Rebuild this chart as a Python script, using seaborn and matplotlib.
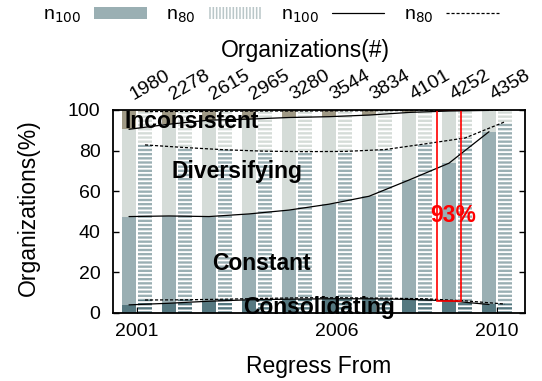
import numpy as np
import matplotlib
matplotlib.use("Agg")
import matplotlib.pyplot as plt
import matplotlib.transforms as mtransforms
import seaborn as sns
import pandas as pd
from matplotlib.patches import Patch, Rectangle
from matplotlib.lines import Line2D

# ---------------- data ----------------
years = [2001, 2002, 2003, 2004, 2005, 2006, 2007, 2008, 2009, 2010]
org_counts = ["1980", "2278", "2615", "2965", "3280", "3544", "3834", "4101", "4252", "4358"]

# cumulative tops (%) for n100
n100_consolidating = [4.0, 4.8, 5.8, 6.5, 6.8, 7.0, 7.0, 6.7, 6.0, 4.2]
n100_constant_top = [47.5, 47.8, 47.5, 48.8, 50.7, 53.6, 57.5, 65.5, 73.8, 89.3]
n100_diversifying_top = [90.5, 93.0, 95.0, 95.5, 96.3, 96.7, 97.5, 98.8, 99.5, 99.8]
# cumulative tops (%) for n80
n80_consolidating = [6.4, 6.5, 6.8, 7.2, 7.5, 7.5, 7.3, 7.0, 6.0, 4.4]
n80_constant_top = [82.8, 81.5, 80.4, 79.7, 79.5, 79.6, 80.5, 83.3, 86.2, 94.2]
n80_diversifying_top = [99.2, 99.3, 99.4, 99.5, 99.5, 99.6, 99.7, 99.8, 99.9, 100.0]
total = [100.0] * 10

highlight_year = 2009
highlight_text = "93%"

# ---------------- style ----------------
sns.set_style("ticks")
plt.rcParams["font.family"] = ["Liberation Sans", "DejaVu Sans"]
plt.rcParams["hatch.linewidth"] = 1.3
for k in ["text.color", "axes.labelcolor", "xtick.color", "ytick.color", "axes.edgecolor"]:
    plt.rcParams[k] = "black"

c_consol = "#557880"
c_const = "#9aafb3"
c_div = "#d5dcd8"
c_incons = "#a09a86"

fig = plt.figure(figsize=(5.42, 3.81), dpi=100)
ax = fig.add_axes([0.2085, 0.1785, 0.7601, 0.5328])

off = 0.2
bw = 0.34
x = np.array(years, dtype=float)

def stack(xpos, cons, const_top, div_top, hatch):
    layers = [
        (np.zeros(10), np.array(cons), c_consol),
        (np.array(cons), np.array(const_top), c_const),
        (np.array(const_top), np.array(div_top), c_div),
        (np.array(div_top), np.array(total), c_incons),
    ]
    for lo, hi, col in layers:
        ax.bar(xpos, hi - lo, bottom=lo, width=bw, color=col,
               edgecolor="white" if hatch else col, linewidth=0,
               hatch=hatch, zorder=1)

stack(x - off, n100_consolidating, n100_constant_top, n100_diversifying_top, None)
stack(x + off, n80_consolidating, n80_constant_top, n80_diversifying_top, "----")

df100 = pd.DataFrame({"x": x - off, "a": n100_consolidating, "b": n100_constant_top, "c": n100_diversifying_top})
df80 = pd.DataFrame({"x": x + off, "a": n80_consolidating, "b": n80_constant_top, "c": n80_diversifying_top})
for col in ["a", "b", "c"]:
    sns.lineplot(data=df100, x="x", y=col, ax=ax, color="black", lw=0.9, zorder=3)
    sns.lineplot(data=df80, x="x", y=col, ax=ax, color="black", lw=0.9, ls=(0, (2.5, 1.5)), zorder=3)

# highlight box
hi = years.index(highlight_year)
hx = highlight_year - off
ax.add_patch(Rectangle((hx - 0.3, n100_consolidating[hi]), 0.6, 100 - n100_consolidating[hi],
                       fill=False, edgecolor="red", lw=1.2, zorder=4))
ax.text(hx + 0.1, 48, highlight_text, color="red", fontsize=16.5, fontweight="bold",
        ha="center", va="center", zorder=5)

# category labels
tk = dict(fontsize=16.5, fontweight="bold", ha="center", va="center", zorder=6, color="black")
ax.text(2002.37, 94.5, "Inconsistent", **tk)
ax.text(2003.5, 69.8, "Diversifying", **tk)
ax.text(2004.1, 24.2, "Constant", **tk)
ax.text(2005.55, 2.6, "Consolidating", **tk)

ax.set_xlim(2000.4, 2010.7)
ax.set_ylim(0, 100)
ax.set_xticks([2001, 2006, 2010])
ax.set_yticks([0, 20, 40, 60, 80, 100])
ax.tick_params(direction="in", length=4, width=1, labelsize=14, top=True, right=True)
ax.tick_params(axis="y", pad=9)
ax.tick_params(axis="x", pad=7)
ax.set_xlabel("Regress From", fontsize=16.5)
ax.set_ylabel("Organizations(%)", fontsize=16.5)
ax.xaxis.set_label_coords(0.5, -0.205)
ax.yaxis.set_label_coords(-0.177, 0.52)
for s in ax.spines.values():
    s.set_linewidth(1.3)
    s.set_zorder(7)

axt = ax.twiny()
axt.set_xlim(ax.get_xlim())
axt.set_xticks(years)
axt.set_xticklabels(org_counts, rotation=30, fontsize=14, ha="center")
axt.tick_params(length=0, pad=5)
shift = mtransforms.ScaledTranslation(0.13, 0, fig.dpi_scale_trans)
for lab in axt.get_xticklabels():
    lab.set_transform(lab.get_transform() + shift)
axt.set_xlabel("Organizations(#)", fontsize=16.5)
axt.xaxis.set_label_coords(0.466, 1.261)
for s in axt.spines.values():
    s.set_visible(False)

handles = [
    Patch(facecolor=c_const, edgecolor=c_const, linewidth=0),
    Patch(facecolor="#b9c6c8", edgecolor="white", hatch="|||||", linewidth=0),
    Line2D([], [], color="black", lw=0.9),
    Line2D([], [], color="black", lw=0.9, ls=(0, (2.5, 1.5))),
]
labels = ["n$_{100}$", "n$_{80}$", "n$_{100}$", "n$_{80}$"]
fig.legend(handles, labels, loc="center", bbox_to_anchor=(0.5, 1 - 16 / 381), ncol=4,
           frameon=False, markerfirst=False, fontsize=14, handlelength=2.7,
           handleheight=0.62, columnspacing=1.0, handletextpad=0.67, borderpad=0)

fig.savefig("out.png", dpi=100)
